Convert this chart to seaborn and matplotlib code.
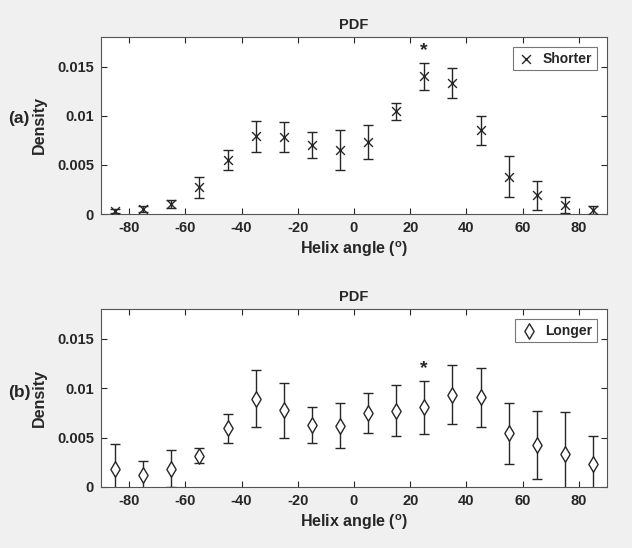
import numpy as np
import pandas as pd
import seaborn as sns
import matplotlib.pyplot as plt
from matplotlib.ticker import FuncFormatter

sns.set_theme(style="ticks")
plt.rcParams['font.family'] = ['Liberation Sans', 'DejaVu Sans']
plt.rcParams['mathtext.fontset'] = 'custom'
plt.rcParams['mathtext.bf'] = 'Liberation Sans:bold'
plt.rcParams['mathtext.rm'] = 'Liberation Sans:bold'
plt.rcParams['axes.unicode_minus'] = False

# helix angle bin centres
angle = [-85, -75, -65, -55, -45, -35, -25, -15, -5, 5, 15, 25, 35, 45, 55, 65, 75, 85]

shorter_pdf = [0.00027, 0.0005, 0.001, 0.0027, 0.0055, 0.0079, 0.00785, 0.0070, 0.0065,
               0.0073, 0.01045, 0.0140, 0.0133, 0.0085, 0.0038, 0.0019, 0.00094, 0.0004]
shorter_err = [0.0002, 0.0003, 0.0004, 0.0011, 0.00105, 0.0016, 0.00155, 0.0013, 0.002,
               0.00175, 0.00085, 0.0014, 0.00155, 0.00145, 0.0021, 0.0015, 0.0008, 0.0004]

longer_pdf = [0.00178, 0.00118, 0.00185, 0.00317, 0.00593, 0.00892, 0.00774, 0.00626, 0.0062,
              0.00747, 0.00771, 0.00805, 0.00933, 0.00906, 0.00542, 0.00424, 0.00337, 0.00236]
longer_err = [0.0026, 0.00145, 0.00185, 0.00075, 0.0015, 0.0029, 0.0028, 0.0018, 0.0023,
              0.002, 0.0026, 0.0027, 0.003, 0.003, 0.0031, 0.0034, 0.0042, 0.0028]

# significance markers: (angle, height)
star_a = (25, 0.0166)
star_b = (25, 0.0120)

ink = '#262626'
bg = '#f0f0f0'


def fmt_y(v, pos):
    return '%g' % round(v, 4)


def draw_panel(ax, pdf, err, label, marker, size, star, tag, tag_y, fig):
    df = pd.DataFrame({'angle': angle, 'pdf': pdf, 'err': err})
    ax.errorbar(df.angle, df.pdf, yerr=df.err, fmt='none', ecolor=ink,
                elinewidth=1.0, capsize=3.8, capthick=1.0, zorder=2)
    if marker == 'x':
        sns.scatterplot(data=df, x='angle', y='pdf', marker='x', s=size, color=ink,
                        linewidth=1.0, label=label, ax=ax, zorder=3)
    else:
        sns.scatterplot(data=df, x='angle', y='pdf', marker=marker, s=size,
                        facecolor='white', edgecolor=ink, linewidth=1.0,
                        label=label, ax=ax, zorder=3)
    ax.text(star[0], star[1], '*', ha='center', va='center', fontsize=14,
            fontweight='bold', color=ink)
    ax.set_xlim(-90, 90)
    ax.set_ylim(0, 0.018)
    ax.set_xticks(range(-80, 81, 20))
    ax.set_yticks([0, 0.005, 0.01, 0.015])
    ax.yaxis.set_major_formatter(FuncFormatter(fmt_y))
    ax.tick_params(direction='in', length=4, width=0.8, top=True, right=True,
                   labelsize=10.5, colors=ink, pad=5)
    for t in ax.get_xticklabels() + ax.get_yticklabels():
        t.set_fontweight('bold')
    for sp in ax.spines.values():
        sp.set_visible(True)
        sp.set_linewidth(0.8)
        sp.set_color('#555555')
    ax.set_facecolor('white')
    ax.set_title('PDF', fontsize=10.5, fontweight='bold', color=ink, pad=6)
    ax.set_xlabel(r'Helix angle ($^{\mathbf{o}}$)', fontsize=11.5, fontweight='bold',
                  color=ink, labelpad=3)
    ax.set_ylabel('Density', fontsize=11.5, fontweight='bold', color=ink)
    ax.yaxis.set_label_coords(-0.107, 0.5)
    leg = ax.legend(loc='upper right', frameon=True, fancybox=False, fontsize=10,
                    borderaxespad=0.7, handletextpad=0.6, borderpad=0.35,
                    handlelength=1.2)
    leg.get_frame().set_edgecolor('#555555')
    leg.get_frame().set_linewidth(0.8)
    for t in leg.get_texts():
        t.set_fontweight('bold')
        t.set_color(ink)
    fig.text(8 / 632, tag_y, tag, fontsize=12.5, fontweight='bold', va='center',
             ha='left', color=ink)


fig = plt.figure(figsize=(6.32, 5.48), dpi=100, facecolor=bg)
ax1 = fig.add_axes([101 / 632, 1 - 214 / 548, 506 / 632, 177 / 548])
ax2 = fig.add_axes([101 / 632, 1 - 487 / 548, 506 / 632, 178 / 548])

draw_panel(ax1, shorter_pdf, shorter_err, 'Shorter', 'x', 40, star_a, '(a)', 1 - 119 / 548, fig)
draw_panel(ax2, longer_pdf, longer_err, 'Longer', 'd', 62, star_b, '(b)', 1 - 392 / 548, fig)

fig.savefig('out.png', dpi=100, facecolor=bg)
